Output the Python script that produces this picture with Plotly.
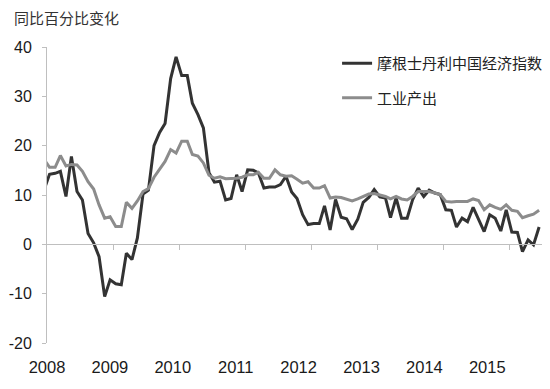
import pandas as pd
import plotly.graph_objects as go

# Monthly observations (plotted mid-month), Dec 2007 - Jun 2015
months = [d + pd.Timedelta(days=14) for d in pd.date_range("2007-12-01", "2015-06-01", freq="MS")]

ms_china = [11.0,
    14.2, 14.4, 14.8, 9.7, 17.8, 10.7, 9.0, 2.2, 0.3, -2.5, -10.6, -7.2,
    -8.0, -8.2, -1.8, -3.1, 1.3, 10.2, 11.0, 20.0, 22.7, 24.5, 33.6, 38.0,
    34.2, 34.2, 28.6, 26.3, 23.6, 14.5, 12.6, 12.8, 9.0, 9.3, 14.1, 10.7,
    15.1, 15.0, 14.5, 11.4, 11.6, 11.6, 12.1, 13.8, 10.6, 9.3, 6.0, 4.0,
    4.2, 4.2, 7.8, 2.9, 9.1, 5.5, 5.2, 3.0, 5.1, 8.5, 9.5, 11.1,
    9.6, 9.4, 5.4, 9.4, 5.3, 5.3, 9.0, 11.4, 9.7, 11.0, 10.4, 10.1,
    7.0, 6.9, 3.5, 5.3, 4.6, 7.5, 5.1, 2.6, 6.0, 5.3, 2.7, 7.0,
    2.5, 2.4, -1.5, 0.9, -0.1, 3.5]

ind_output = [17.3,
    15.6, 15.6, 18.0, 15.9, 16.2, 16.1, 14.8, 12.7, 11.2, 8.0, 5.3, 5.6,
    3.6, 3.6, 8.5, 7.3, 8.8, 10.7, 11.3, 13.6, 15.2, 16.8, 19.2, 18.5,
    20.9, 20.9, 18.2, 17.9, 16.5, 14.0, 13.4, 13.7, 13.3, 13.3, 13.4, 13.6,
    14.1, 14.1, 14.6, 13.4, 13.4, 15.1, 14.1, 13.8, 13.9, 13.2, 12.4, 12.7,
    11.4, 11.4, 11.9, 9.4, 9.6, 9.5, 9.2, 8.8, 9.2, 9.7, 10.2, 10.3,
    10.0, 9.7, 9.2, 9.7, 9.2, 9.0, 9.7, 10.7, 10.7, 10.7, 10.4, 10.1,
    8.7, 8.6, 8.7, 8.7, 8.7, 9.2, 8.9, 7.0, 8.0, 7.5, 7.1, 8.0,
    6.9, 6.7, 5.4, 5.8, 6.1, 6.9]

series_names = ["摩根士丹利中国经济指数", "工业产出"]
year_labels = ["2008", "2009", "2010", "2011", "2012", "2013", "2014", "2015"]
year_ticks = ["2009-01-01", "2010-01-01", "2011-01-01", "2012-01-01",
              "2013-01-01", "2014-01-01", "2015-01-01"]
y_ticks = [-20, -10, 0, 10, 20, 30, 40]
y_tick_labels = ["-20", "-10", "0", "10", "20", "30", "40"]

FONT = "Liberation Sans, Arial, Noto Sans CJK SC, sans-serif"
CJK = "Noto Sans CJK SC, sans-serif"
AXIS = "#bfbfbf"

fig = go.Figure()
fig.add_trace(go.Scatter(x=months, y=ms_china, mode="lines", name=series_names[0],
                         line=dict(color="#333333", width=3), legendgroup="a"))
fig.add_trace(go.Scatter(x=months, y=ind_output, mode="lines", name=series_names[1],
                         line=dict(color="#8c8c8c", width=3), legendgroup="b"))
# invisible helper trace so the overlaying label axis is rendered
fig.add_trace(go.Scatter(x=[0], y=[None], xaxis="x2", showlegend=False,
                         hoverinfo="skip"))

# the page body adds an 8px offset, so the figure is 8px smaller on each axis
fig.update_layout(
    template="none",
    width=542, height=381,
    margin=dict(l=39, r=8, t=39, b=46, autoexpand=False),
    paper_bgcolor="white", plot_bgcolor="white",
    font=dict(family=FONT, size=16.5, color="#1a1a1a"),
    showlegend=True,
    legend=dict(x=0.586, y=1.0, xanchor="left", yanchor="top",
                font=dict(family=CJK, size=15, color="#222222"),
                tracegroupgap=12, bgcolor="rgba(0,0,0,0)"),
    xaxis=dict(type="date", range=["2008-01-01", "2015-07-01"],
               anchor="free", position=1/3, automargin=False,
               showline=True, linecolor=AXIS, linewidth=1,
               tickvals=year_ticks, ticks="outside", ticklen=5, tickcolor=AXIS,
               showticklabels=False, showgrid=False, zeroline=False),
    xaxis2=dict(overlaying="x", anchor="y", side="bottom", automargin=False,
                range=[0, 495 / 62.9], tickvals=list(range(len(year_labels))),
                ticktext=year_labels, showline=False, showgrid=False, zeroline=False,
                ticks="", ticklabelstandoff=12,
                tickfont=dict(family=FONT, size=16.5, color="#1a1a1a")),
    yaxis=dict(range=[-20, 40], tickvals=y_ticks, ticktext=y_tick_labels,
               showline=True, linecolor=AXIS,
               linewidth=1, ticks="outside", ticklen=4, tickcolor=AXIS,
               automargin=False,
               showgrid=False, zeroline=False, ticklabelstandoff=7,
               tickfont=dict(family=FONT, size=16, color="#1a1a1a")),
    annotations=[dict(text="同比百分比变化", xref="paper", yref="paper",
                      x=-35/495, y=1 + 29/296, xanchor="left", yanchor="middle",
                      showarrow=False,
                      font=dict(family=CJK, size=15, color="#333333"))],
)

fig.write_html("out.html")
